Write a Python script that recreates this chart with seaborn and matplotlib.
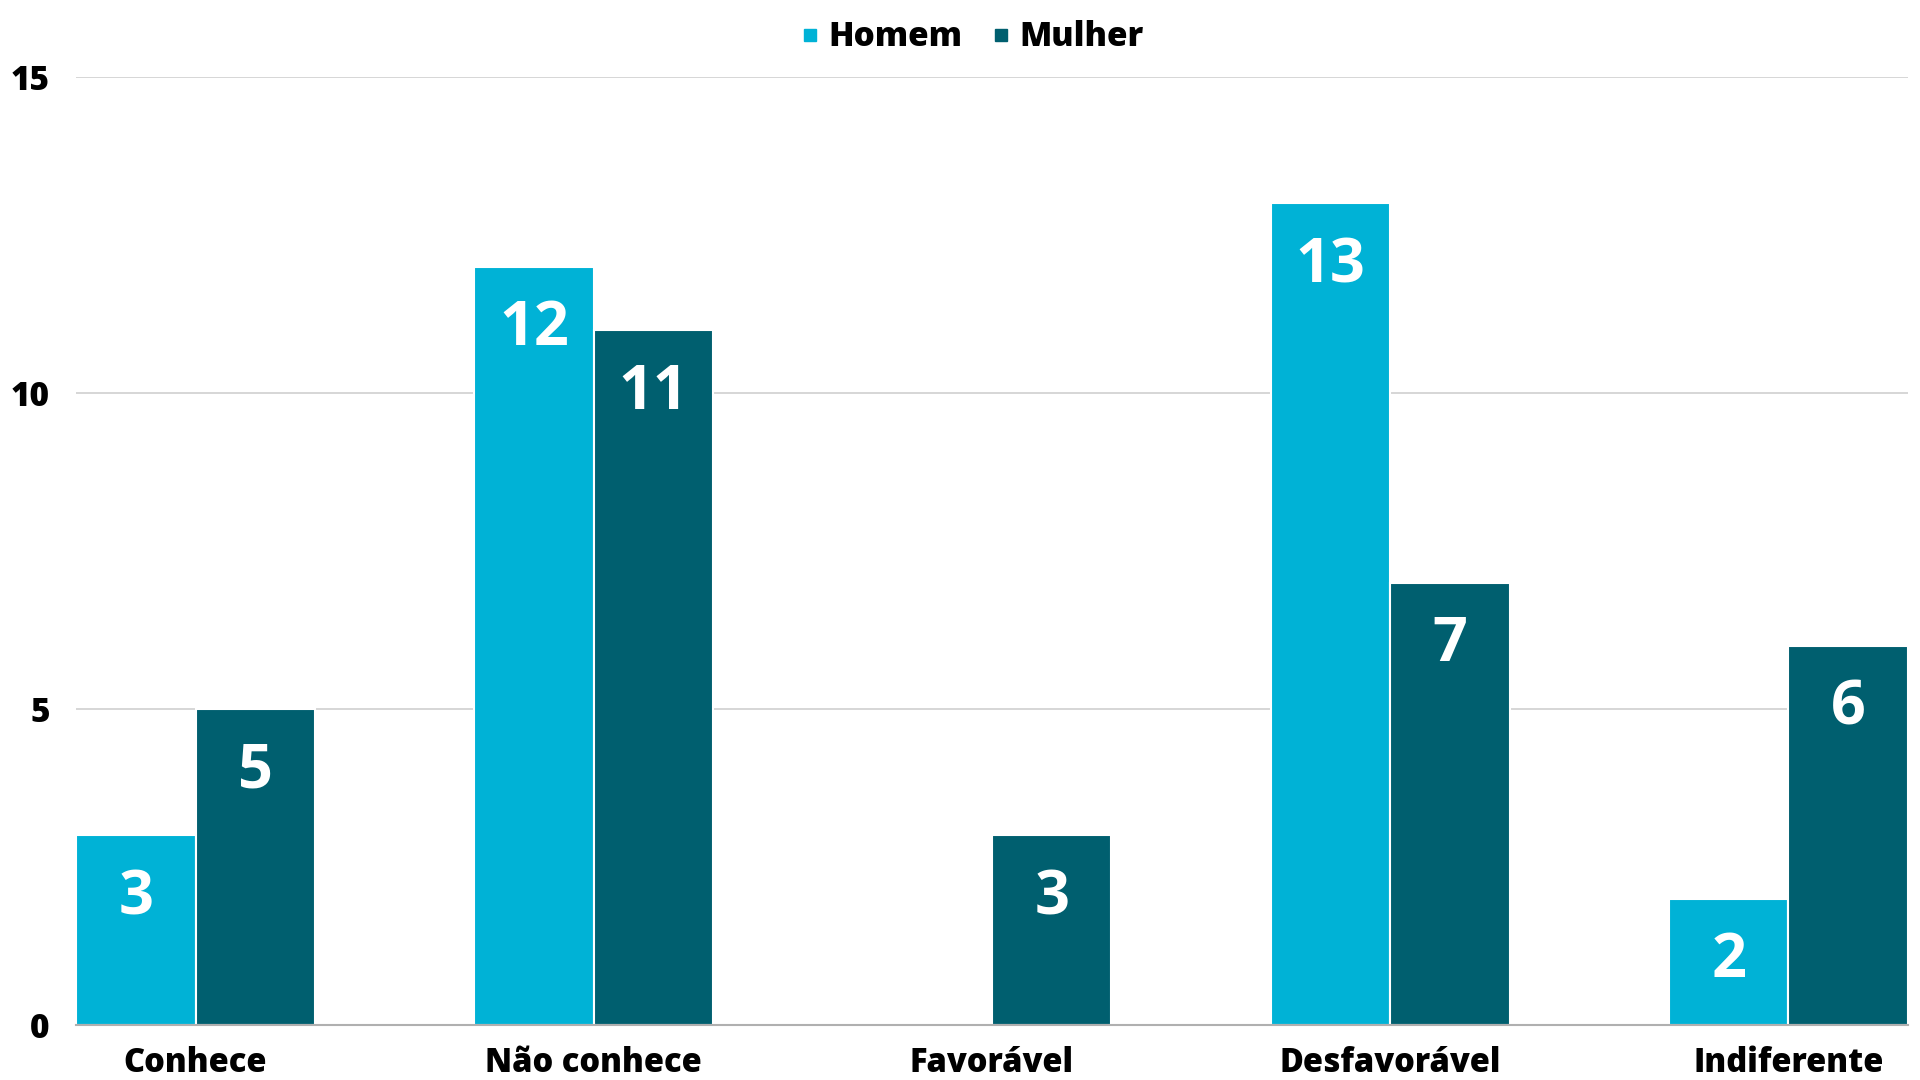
import pandas as pd
import matplotlib
matplotlib.use("Agg")
import matplotlib.pyplot as plt
from matplotlib.lines import Line2D
import seaborn as sns

categories = ["Conhece", "Não conhece", "Favorável", "Desfavorável", "Indiferente"]
homem = [3, 12, 0, 13, 2]
mulher = [5, 11, 3, 7, 6]
series = ["Homem", "Mulher"]
colors = {"Homem": "#00b2d6", "Mulher": "#005f6f"}

df = pd.DataFrame({
    "categoria": categories * 2,
    "sexo": ["Homem"] * len(categories) + ["Mulher"] * len(categories),
    "valor": homem + mulher,
})

sns.set_style("white")
plt.rcParams["font.family"] = ["Open Sans", "DejaVu Sans"]
plt.rcParams["font.weight"] = 800
plt.rcParams["text.color"] = "black"

fig = plt.figure(figsize=(19.2, 10.8), dpi=100)
ax = fig.add_axes([0.0396, 0.0509, 0.9541, 0.8778])

sns.barplot(data=df, x="categoria", y="valor", hue="sexo", hue_order=series,
            palette=colors, width=0.6, edgecolor="white", linewidth=1.5,
            saturation=1, legend=False, ax=ax)

# value labels inside the top of each bar, skip empty ones
for cont in ax.containers:
    for bar in cont:
        h = bar.get_height()
        if h <= 0:
            continue
        ax.annotate(f"{int(h)}", (bar.get_x() + bar.get_width() / 2, h),
                    xytext=(0, -45.5), textcoords="offset points",
                    ha="center", va="center", color="white",
                    fontsize=44, fontweight="bold")

ax.set_xlim(-0.3, len(categories) - 0.7)
ax.set_ylim(0, 15)
ax.set_yticks([0, 5, 10, 15])
ax.yaxis.grid(True, color="#d0d0d0", linewidth=1.2)
ax.set_axisbelow(True)
for s in ["left", "right", "top"]:
    ax.spines[s].set_visible(False)
ax.spines["bottom"].set_color("#b0b0b0")
ax.spines["bottom"].set_linewidth(1.5)
ax.set_xlabel("")
ax.set_ylabel("")
ax.tick_params(axis="x", length=0, pad=15, labelsize=23.5, labelcolor="black")
ax.tick_params(axis="y", length=0, pad=19, labelsize=24, labelcolor="black")
for lbl in ax.get_xticklabels() + ax.get_yticklabels():
    lbl.set_fontweight(800)

handles = [Line2D([], [], marker="s", linestyle="", markersize=9,
                  color=colors[s]) for s in series]
fig.legend(handles, series, loc="upper center", bbox_to_anchor=(0.506, 1.009),
           ncol=2, frameon=False, handlelength=0.6, handletextpad=0.25,
           columnspacing=0.85, prop={"weight": 800, "size": 24})

fig.savefig("out.png", dpi=100)
